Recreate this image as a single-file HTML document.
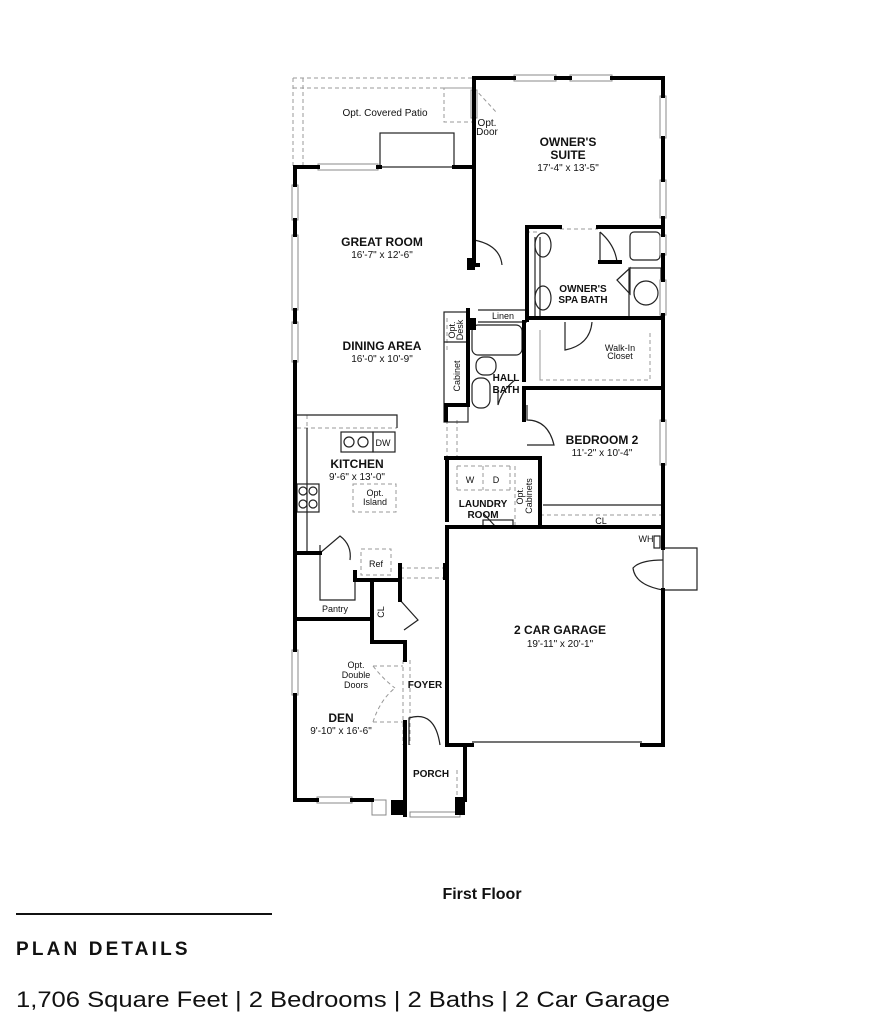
<!DOCTYPE html>
<html><head><meta charset="utf-8"><style>
html,body{margin:0;padding:0;background:#fff;width:872px;height:1024px;overflow:hidden}
svg{position:absolute;left:0;top:0}
text{font-family:"Liberation Sans",Arial,sans-serif;fill:#111}
.b{font-weight:bold}
</style></head><body>
<svg width="872" height="1024" viewBox="0 0 872 1024">
<g fill="none" stroke="#999" stroke-width="1" stroke-dasharray="4,3">
<!-- patio -->
<path d="M293 78 H474 M293 78 V167 M293 88 H474 M303 78 V167"/>
<rect x="444" y="88" width="30" height="34"/>
<path d="M474 88 L497 113"/>
<!-- kitchen counters -->
<path d="M297 428 H397 M307 415 V553"/>
<rect x="353" y="484" width="43" height="28"/>
<rect x="361" y="549" width="30" height="26"/>
<path d="M400 568 H447 M400 578 H447"/>
<path d="M447 420 V458 M457 420 V458 M447 318 V350"/>
<path d="M373 666 H403 M373 722 H403 M403 660 V745 M410 660 V745"/>
<path d="M373 666 Q384 680 395 688 M373 722 Q380 700 395 688"/>
<path d="M457 466 H510 M457 490 H510 M483 466 V490 M457 466 V490 M510 466 V490 M515 466 V525"/>
<path d="M540 515 H663 M537 232 H527 M560 229 H598"/>
<path d="M540 330 V380 H650 V330"/>
<path d="M540 380 V330"/>
<path d="M457 770 V800 M465 770 V800"/>
</g>
<!-- thin walls / fixtures -->
<g fill="none" stroke="#222" stroke-width="1.2">
<rect x="380" y="133" width="74" height="34"/>
<path d="M297 415 H397 V428 M307 428 V553 H320 M320 545 V600 H355 V572"/>
<rect x="341" y="432" width="32" height="20"/>
<circle cx="349" cy="442" r="5"/><circle cx="363" cy="442" r="5"/>
<rect x="373" y="432" width="22" height="20"/>
<rect x="297" y="484" width="22" height="28"/>
<circle cx="303" cy="491" r="4"/><circle cx="313" cy="491" r="4"/><circle cx="303" cy="504" r="4"/><circle cx="313" cy="504" r="4"/>
<path d="M320 553 L340 536 Q352 545 350 560"/>
<path d="M400 580 V600 L418 620 L404 630"/>
<rect x="444" y="312" width="24" height="110"/>
<path d="M444 342 H468"/>
<rect x="472" y="325" width="50" height="30" rx="6"/>
<rect x="476" y="357" width="20" height="18" rx="8"/>
<rect x="472" y="378" width="18" height="30" rx="8"/>
<path d="M474 265 V240 Q500 245 502 265 M478 310 H527 M478 322 H527"/>
<path d="M535 237 V320 M540 237 V320"/>
<ellipse cx="543" cy="245" rx="8" ry="12"/><ellipse cx="543" cy="298" rx="8" ry="12"/>
<path d="M600 232 V262 H620 M600 232 Q615 245 617 262"/>
<rect x="630" y="232" width="30" height="28" rx="4"/>
<rect x="629" y="268" width="32" height="50"/>
<circle cx="646" cy="293" r="12"/>
<path d="M617 280 L630 268 L630 294 Z"/>
<path d="M565 322 V350 Q590 345 592 322"/>
<path d="M527 405 V420 Q548 420 554 445 H527"/>
<path d="M498 390 V405 Q502 390 515 380"/>
<path d="M483 513 L495 526 H515 V528"/>
<rect x="483" y="520" width="30" height="8"/>
<path d="M543 505 H663"/>
<path d="M663 548 V590 H697 V548 Z"/>
<path d="M663 560 Q640 560 633 568 Q635 585 663 590"/>
<rect x="654" y="536" width="6" height="12"/>
<path d="M409 745 V718 Q435 710 440 745 M472 742 H642"/>
</g>
<!-- windows -->
<g fill="#fff" stroke="#888" stroke-width="1">
<rect x="514" y="75" width="42" height="6"/><rect x="570" y="75" width="42" height="6"/>
<rect x="660" y="96" width="6" height="42"/><rect x="660" y="180" width="6" height="38"/>
<rect x="660" y="235" width="6" height="20"/><rect x="660" y="280" width="6" height="35"/>
<rect x="471" y="90" width="6" height="28"/>
<rect x="318" y="164" width="60" height="6"/>
<rect x="292" y="185" width="6" height="35"/><rect x="292" y="235" width="6" height="75"/><rect x="292" y="322" width="6" height="40"/>
<rect x="660" y="420" width="6" height="45"/>
<rect x="292" y="650" width="6" height="45"/>
<rect x="317" y="797" width="35" height="6"/>
<rect x="372" y="800" width="14" height="15"/>
<rect x="410" y="812" width="50" height="5"/>
</g>
<!-- heavy walls -->
<g fill="none" stroke="#000" stroke-width="4" stroke-linecap="square">
<path d="M295 167 V185 M295 220 V235 M295 310 V322 M295 362 V650 M295 695 V800 H317 M352 800 H372"/>
<path d="M295 167 H318 M378 167 H380 M454 167 H474"/>
<path d="M474 78 V265 H478 M474 78 H514 M556 78 H570 M612 78 H663 V96 M663 138 V180 M663 218 V235 M663 255 V280 M663 315 V420 M663 465 V527"/>
<path d="M527 227 V320 M527 227 H560 M598 227 H663 M600 262 H620"/>
<path d="M468 310 V322 M468 318 V405 M524 322 V380 M527 318 H663 V322 M524 388 H663 M524 388 V420 M446 405 H468 M446 405 V420 M447 458 V520 M446 458 H540 V527 M447 527 H663 M540 505 V525"/>
<path d="M447 527 V745 H472 M642 745 H663 V590 M663 548 V527"/>
<path d="M295 553 H320 M295 619 H372 V642 H405 V660 M400 565 V578 M372 580 V619 M400 580 V600 M355 572 V580 H400 V565 M405 722 V800 M445 565 V578"/>
<path d="M405 745 V815 M465 745 V800"/>
</g>
<rect x="467" y="258" width="8" height="12" fill="#000"/>
<rect x="467" y="318" width="9" height="12" fill="#000"/>
<rect x="391" y="800" width="15" height="15" fill="#000"/>
<rect x="455" y="797" width="10" height="18" fill="#000"/>
<!-- labels -->
<g text-anchor="middle" font-size="10">
<text x="385" y="116">Opt. Covered Patio</text>
<text x="487" y="126">Opt.</text><text x="487" y="135">Door</text>
<text class="b" x="568" y="146" font-size="12">OWNER'S</text>
<text class="b" x="568" y="159" font-size="12">SUITE</text>
<text x="568" y="171">17'-4" x 13'-5"</text>
<text class="b" x="382" y="246" font-size="12">GREAT ROOM</text>
<text x="382" y="258">16'-7" x 12'-6"</text>
<text class="b" x="583" y="292" font-size="10">OWNER'S</text>
<text class="b" x="583" y="303" font-size="10">SPA BATH</text>
<text x="503" y="319" font-size="9">Linen</text>
<text x="620" y="351" font-size="9">Walk-In</text><text x="620" y="359" font-size="9">Closet</text>
<text class="b" x="382" y="350" font-size="12">DINING AREA</text>
<text x="382" y="362">16'-0" x 10'-9"</text>
<text class="b" x="506" y="381" font-size="10">HALL</text><text class="b" x="506" y="393" font-size="10">BATH</text>
<text class="b" x="602" y="444" font-size="12">BEDROOM 2</text>
<text x="602" y="456">11'-2" x 10'-4"</text>
<text x="383" y="446" font-size="9">DW</text>
<text class="b" x="357" y="468" font-size="12">KITCHEN</text>
<text x="357" y="480">9'-6" x 13'-0"</text>
<text x="375" y="496" font-size="9">Opt.</text><text x="375" y="505" font-size="9">Island</text>
<text x="470" y="483" font-size="9">W</text><text x="496" y="483" font-size="9">D</text>
<text class="b" x="483" y="507" font-size="10">LAUNDRY</text><text class="b" x="483" y="518" font-size="10">ROOM</text>
<text x="601" y="524" font-size="9">CL</text>
<text x="646" y="542" font-size="9">WH</text>
<text x="376" y="567" font-size="9">Ref</text>
<text x="335" y="612" font-size="9">Pantry</text>
<text class="b" x="560" y="634" font-size="12">2 CAR GARAGE</text>
<text x="560" y="647">19'-11" x 20'-1"</text>
<text x="356" y="668" font-size="9">Opt.</text><text x="356" y="678" font-size="9">Double</text><text x="356" y="688" font-size="9">Doors</text>
<text class="b" x="425" y="688" font-size="10">FOYER</text>
<text class="b" x="341" y="722" font-size="12">DEN</text>
<text x="341" y="734">9'-10" x 16'-6"</text>
<text class="b" x="431" y="777" font-size="10">PORCH</text>
</g>
<g font-size="9" text-anchor="middle">
<text transform="translate(455,330) rotate(-90)">Opt.</text>
<text transform="translate(463,330) rotate(-90)">Desk</text>
<text transform="translate(460,376) rotate(-90)">Cabinet</text>
<text transform="translate(384,612) rotate(-90)">CL</text>
<text transform="translate(523,496) rotate(-90)">Opt.</text>
<text transform="translate(532,496) rotate(-90)">Cabinets</text>
</g>
<text class="b" x="482" y="899" font-size="16" text-anchor="middle">First Floor</text>
<rect x="16" y="913" width="256" height="2" fill="#111"/>
<text class="b" x="16" y="955" font-size="19" letter-spacing="2.5" textLength="174">PLAN DETAILS</text>
<text x="16" y="1007" font-size="22" textLength="654" lengthAdjust="spacingAndGlyphs">1,706 Square Feet  |  2 Bedrooms  |  2 Baths  |  2 Car Garage</text>
</svg>
</body></html>
